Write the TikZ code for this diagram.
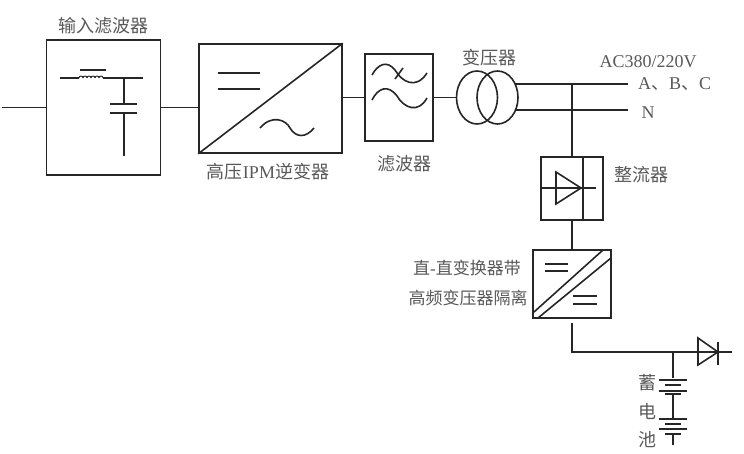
\documentclass[tikz,border=0pt]{standalone}
\usepackage{fontspec}
\setmainfont{Liberation Serif}
\newfontfamily\cjk{Noto Sans CJK SC}
\usetikzlibrary{positioning}
\usetikzlibrary{shapes.geometric}
\usetikzlibrary{calc}

\tikzset{
  blk/.style={draw, inner sep=0pt},
  coil/.style={draw, ellipse, inner sep=0pt, minimum width=41pt, minimum height=53pt},
  lbl/.style={inner sep=0pt, text=black!65, font=\fontsize{18}{21}\selectfont},
  lblsm/.style={lbl, font=\fontsize{17}{20}\selectfont},
}

\begin{document}
\begin{tikzpicture}[x=1pt, y=-1pt, line width=1.6pt, black!85]

  \useasboundingbox[fill=white] (0,0) rectangle (744,454);

  %blocks
  \node[blk, minimum width=114pt, minimum height=135pt] (inF) at (103.5,107.5) {};
  \node[blk, minimum width=143pt, minimum height=109pt] (inv) at (270.5,98.5) {};
  \node[blk, minimum width=68pt, minimum height=87pt] (lpf) at (399,97.5) {};
  \node[coil] (tr1) at (477,97.5) {};
  \node[coil] (tr2) at (497.5,97.5) {};
  \node[blk, minimum width=62pt, minimum height=63pt] (rec) at (572,188.5) {};
  \node[blk, minimum width=78pt, minimum height=68pt] (dcdc) at (572,284) {};

  \coordinate (src) at (2,107.5);
  \coordinate (abc) at (628,84);
  \coordinate (neu) at (628,110);
  \coordinate (tap) at (572,84);
  \coordinate (out) at (572,323);
  \coordinate (bend) at (572,352);
  \coordinate (bus) at (732,352);
  \coordinate (bat) at (673,352);

  %wires
  \draw (src) -- (inF.west);
  \draw (inF.east) -- (inF.east -| inv.west);
  \draw (lpf.west -| inv.east) -- (lpf.west);
  \draw (lpf.east) -- (tr1.west);
  \draw (tr2.40 |- abc) -- (abc);
  \draw (tr2.-40 |- neu) -- (neu);
  \draw (tap) -- (rec.north);
  \draw (rec.south) -- (dcdc.north);
  \draw (out) -- (bend) -- (bus);

  %input filter
  \draw (60,78) -- (79,78);
  \foreach \i in {0,1,2,3,4,5} {
    \draw[line width=0.9pt] (79+\i*4,78) arc[start angle=180, end angle=0, radius=2pt];
  }
  \draw (103,78) -- (143,78);
  \draw (80,70) -- (106,70);
  \draw (124,78) -- (124,104);
  \draw (110,104) -- (137,104);
  \draw (110,113) -- (137,113);
  \draw (124,113) -- (124,156);

  %inverter
  \draw (inv.south west) -- (inv.north east);
  \foreach \y in {73,89} {
    \draw (218,\y) -- (260,\y);
  }
  \draw (260,128) .. controls (272,114) and (286,120) .. (290,128) .. controls (296,138) and (306,138) .. (314,128);

  %filter
  \draw (372,75) .. controls (378,64) and (387,60) .. (395,70) .. controls (402,82) and (416,90) .. (427,73);
  \draw (395,79) -- (403,68);
  \draw (372,100) .. controls (378,88) and (388,84) .. (397,96) .. controls (404,108) and (418,114) .. (427,98);

  %rectifier
  \draw (583,157) -- (583,220);
  \draw (541,188) -- (596,188);
  \draw (556,172) -- (581,188) -- (556,204) -- cycle;

  %dc-dc
  \draw (534,312) -- (603,250);
  \draw (538,318) -- (611,258);
  \foreach \y in {264,271} {
    \draw (545,\y) -- (568,\y);
  }
  \foreach \y in {296,304} {
    \draw (573,\y) -- (597,\y);
  }

  %diode
  \draw (698,338) -- (718,352) -- (698,365) -- cycle;
  \draw (718,342) -- (718,365);

  %battery
  \draw (bat) -- (673,378);
  \draw (673,394) -- (673,418);
  \draw (673,434) -- (673,445);
  \foreach \y in {380,391,419,429} {
    \draw (659,\y) -- (687,\y);
  }
  \foreach \y in {385,394,424,434} {
    \draw (665,\y) -- (681,\y);
  }

  %labels
  \node[lbl] (tInF) at (103,26) {\cjk 输入滤波器};
  \node[lbl] (tInv) at (268,172) {{\cjk 高压}IPM{\cjk 逆变器}};
  \node[lbl] (tLpf) at (404,164) {\cjk 滤波器};
  \node[lbl] (tTr) at (489,58) {\cjk 变压器};
  \node[lbl] (tAc) at (648,62) {AC380/220V};
  \node[lbl] (tAbc) at (674.5,84) {A{\cjk 、}B{\cjk 、}C};
  \node[lbl] (tN) at (648,113) {N};
  \node[lbl] (tRec) at (641,175) {\cjk 整流器};
  \node[lblsm] (tDc1) at (467,268) {{\cjk 直}-{\cjk 直变换器带}};
  \node[lblsm] (tDc2) at (468,298) {\cjk 高频变压器隔离};
  \foreach \y/\name in {383/蓄, 412/电, 440/池} {
    \node[lbl] (t\y) at (647,\y) {\cjk \name};
  }

\end{tikzpicture}
\end{document}
